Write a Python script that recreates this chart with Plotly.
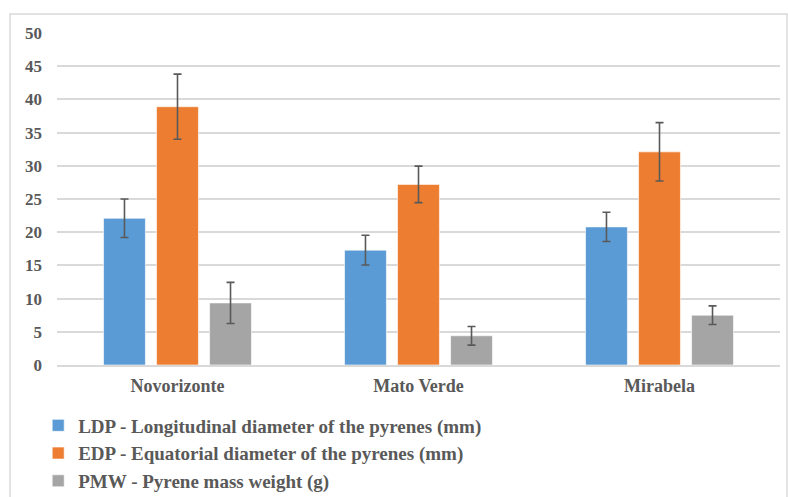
import plotly.graph_objects as go

categories = ["Novorizonte", "Mato Verde", "Mirabela"]
ldp = [22.1, 17.3, 20.8]
ldp_err = [2.9, 2.25, 2.2]
edp = [38.9, 27.2, 32.1]
edp_err = [4.9, 2.75, 4.4]
pmw = [9.35, 4.4, 7.5]
pmw_err = [3.1, 1.4, 1.4]

names = ["LDP - Longitudinal diameter of the pyrenes (mm)",
         "EDP - Equatorial diameter of the pyrenes (mm)",
         "PMW - Pyrene mass weight (g)"]
colors = ["#5B9BD5", "#ED7D31", "#A5A5A5"]

fig = go.Figure()
for vals, errs, name, col in zip([ldp, edp, pmw], [ldp_err, edp_err, pmw_err], names, colors):
    fig.add_trace(go.Bar(
        x=categories, y=vals, name=name,
        marker=dict(color=col, line=dict(color="rgba(255,255,255,0.6)", width=1)),
        error_y=dict(type="data", array=errs, visible=True, color="#595959", thickness=1.6, width=4),
    ))

font = "Liberation Serif"
fig.update_layout(
    width=788, height=497,
    margin=dict(l=57, r=8, t=33, b=132, autoexpand=False),
    paper_bgcolor="white", plot_bgcolor="white",
    barmode="group", bargap=0.34, bargroupgap=0.21,
    font=dict(family=font, color="#595959", size=17, weight="bold"),
    showlegend=True,
    legend=dict(x=-0.026, y=-0.125, xanchor="left", yanchor="top",
                orientation="v", font=dict(family=font, size=19, color="#595959", weight="bold"),
                itemwidth=30),
    xaxis=dict(showgrid=False, showline=True, linecolor="#D9D9D9", linewidth=1.5,
               automargin=False,
               tickfont=dict(family=font, size=18, color="#595959", weight="bold"),
               ticks="", ticklabelstandoff=4),
    yaxis=dict(range=[0, 50], dtick=5, showgrid=True, gridcolor="#D9D9D9", gridwidth=1.5,
               zeroline=False, showline=False, ticks="", automargin=False,
               tickfont=dict(family=font, size=17, color="#595959", weight="bold"),
               ticklabelstandoff=14),
    shapes=[dict(type="rect", xref="paper", yref="paper",
                 x0=-0.065, x1=1.0097, y0=-0.42, y1=1.057,
                 line=dict(color="#D9D9D9", width=1.5), fillcolor="rgba(0,0,0,0)", layer="below")],
)

fig.write_html("out.html", config={"displayModeBar": False},
               post_script="document.body.style.margin='0';")
